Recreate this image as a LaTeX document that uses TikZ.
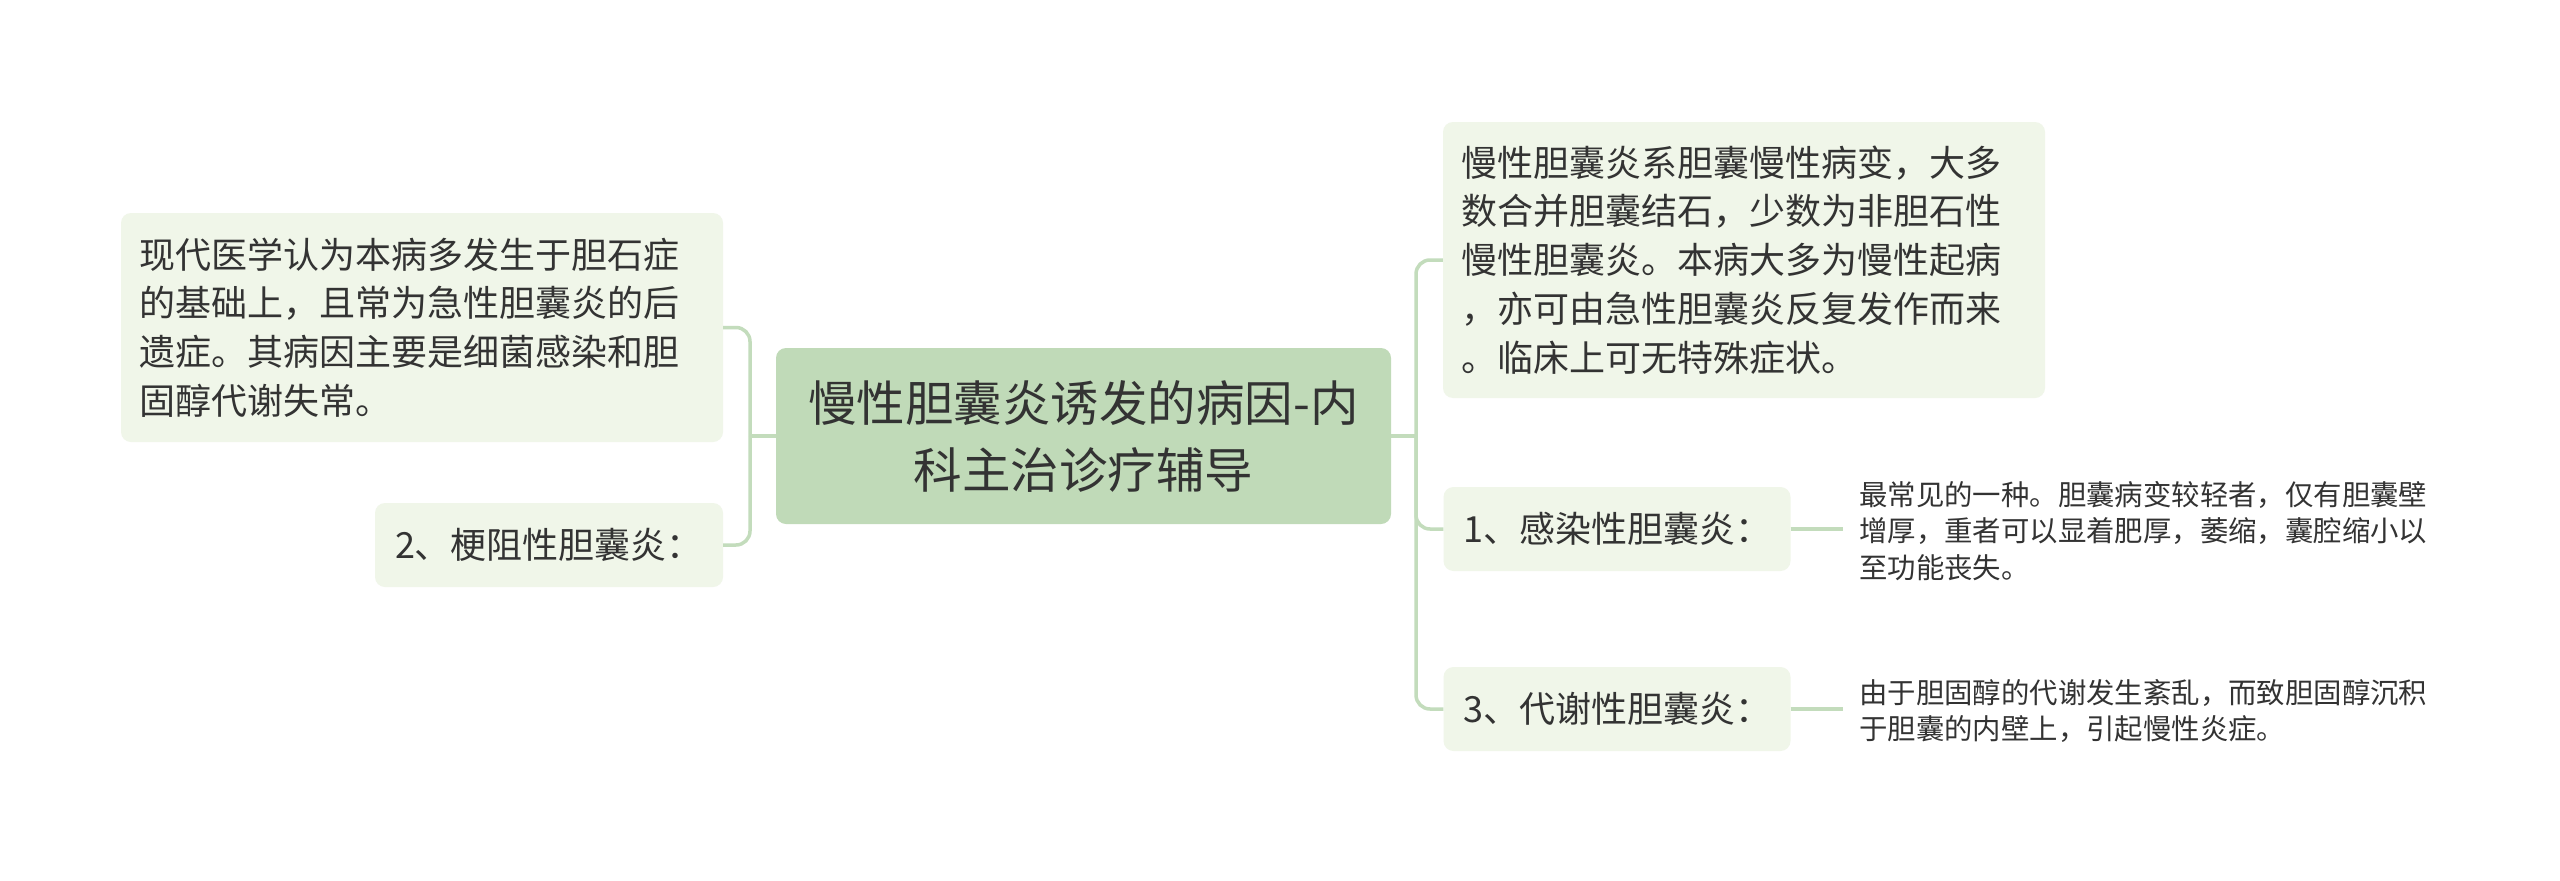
\documentclass[tikz,border=0pt]{standalone}
\usepackage{fontspec}
\setmainfont{Noto Sans CJK SC}
\definecolor{rootfill}{HTML}{C0DAB8}
\definecolor{boxfill}{HTML}{F0F6E9}
\definecolor{linecol}{HTML}{C3DCBC}
\definecolor{txt}{HTML}{333333}
\tikzset{
  box/.style={fill=boxfill, rounded corners=10pt, text=txt, inner ysep=0pt, inner xsep=18pt},
  rootbox/.style={fill=rootfill, rounded corners=10pt, text=txt, align=center, inner sep=0pt},
  bigtext/.style={font=\fontsize{36pt}{48.8pt}\selectfont},
  labeltext/.style={font=\fontsize{36pt}{40pt}\selectfont},
  smalltext/.style={font=\fontsize{28.4pt}{36.6pt}\selectfont, text=txt, align=left, inner ysep=0pt, inner xsep=16pt},
  conn/.style={draw=linecol, line width=3.5pt, rounded corners=14pt}
}
\begin{document}
\begin{tikzpicture}[x=1pt,y=-1pt]
\useasboundingbox[fill=white] (0,0) rectangle (2560,881);
% root
\node[rootbox, minimum width=615pt, minimum height=176pt, font=\fontsize{48.5pt}{67pt}\selectfont] (c) at (1083.5,436) {慢性胆囊炎诱发的病因-内\\科主治诊疗辅导};
% left
\node[box, bigtext, minimum width=602pt, minimum height=229pt, text width=566pt, align=left] (l1) at (422,327.5) {现代医学认为本病多发生于胆石症\\的基础上，且常为急性胆囊炎的后\\遗症。其病因主要是细菌感染和胆\\固醇代谢失常。};
\node[box, labeltext, minimum width=348pt, minimum height=84pt, inner xsep=0pt] (l2) at (549,545) {2、梗阻性胆囊炎：};
% right
\node[box, bigtext, minimum width=602pt, minimum height=276pt, text width=566pt, align=left] (r1) at (1744,260) {慢性胆囊炎系胆囊慢性病变，大多\\数合并胆囊结石，少数为非胆石性\\慢性胆囊炎。本病大多为慢性起病\\，亦可由急性胆囊炎反复发作而来\\。临床上可无特殊症状。};
\node[box, labeltext, minimum width=347pt, minimum height=84pt, inner xsep=0pt] (r2) at (1617,529) {1、感染性胆囊炎：};
\node[box, labeltext, minimum width=347pt, minimum height=84pt, inner xsep=0pt] (r3) at (1617,709) {3、代谢性胆囊炎：};
% detail texts
\node[smalltext, anchor=west] (t2) at (1843,531) {最常见的一种。胆囊病变较轻者，仅有胆囊壁\\增厚，重者可以显着肥厚，萎缩，囊腔缩小以\\至功能丧失。};
\node[smalltext, anchor=west] (t3) at (1843,711) {由于胆固醇的代谢发生紊乱，而致胆固醇沉积\\于胆囊的内壁上，引起慢性炎症。};
% junctions
\coordinate (lj) at (750,436);
\coordinate (rj) at (1416,436);
\draw[conn] (c.west) -- (lj);
\draw[conn] (lj) |- (l1.east);
\draw[conn] (lj) |- (l2.east);
\draw[conn] (c.east) -- (rj);
\draw[conn] (rj) |- (r1.west);
\draw[conn] (rj) |- (r2.west);
\draw[conn] (rj) |- (r3.west);
\draw[conn] (r2.east) -- (r2.east -| t2.west);
\draw[conn] (r3.east) -- (r3.east -| t3.west);
\end{tikzpicture}
\end{document}
